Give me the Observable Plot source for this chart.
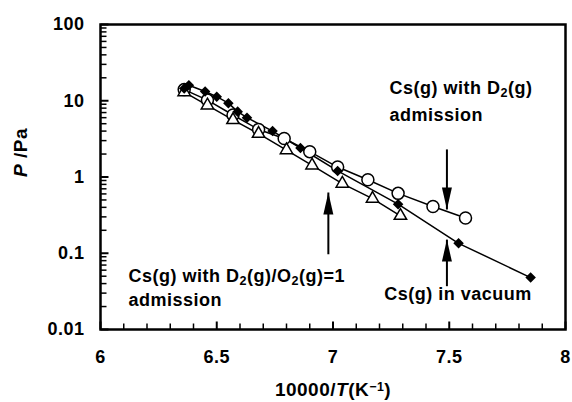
<!DOCTYPE html>
<html><head><meta charset="utf-8">
<script src="https://cdn.jsdelivr.net/npm/d3@7"></script>
<script src="https://cdn.jsdelivr.net/npm/@observablehq/plot@0.6"></script>
<style>body{margin:0;background:#fff;}</style>
</head><body><div id="chart"></div>
<script>
// Axis ticks and labels
const xTicks = [6, 6.5, 7, 7.5, 8];
const xTickLabels = ["6", "6.5", "7", "7.5", "8"];
const yTicks = [0.01, 0.1, 1, 10, 100];
const yTickLabels = ["0.01", "0.1", "1", "10", "100"];
const xTitle = "10000/*T*(K^{−1})";
const yTitle = "*P* /Pa";

// Cs(g) in vacuum (filled diamonds)
const vacuumX = [6.36, 6.38, 6.45, 6.50, 6.55, 6.59, 6.63, 6.74, 6.86, 7.02, 7.28, 7.54, 7.85];
const vacuumP = [14.5, 16.0, 13.2, 11.3, 9.3, 7.2, 6.0, 4.0, 2.4, 1.2, 0.44, 0.135, 0.048];
// Cs(g) with D2(g) admission (open circles)
const d2X = [6.36, 6.46, 6.57, 6.68, 6.79, 6.90, 7.02, 7.15, 7.28, 7.43, 7.57];
const d2P = [14.0, 10.2, 6.5, 4.2, 3.2, 2.15, 1.35, 0.92, 0.61, 0.41, 0.29];
// Cs(g) with D2(g)/O2(g)=1 admission (open triangles)
const d2o2X = [6.36, 6.46, 6.57, 6.68, 6.80, 6.91, 7.04, 7.17, 7.29];
const d2o2P = [13.0, 8.7, 5.6, 3.7, 2.25, 1.42, 0.82, 0.52, 0.31];

// Annotations
const labelText = ["Cs(g) with D_{2}(g)", "admission", "Cs(g) with D_{2}(g)/O_{2}(g)=1", "admission", "Cs(g) in vacuum"];
const labelX = [7.243, 7.243, 6.12, 6.12, 7.22];
const labelP = [14.5, 6.5, 0.0495, 0.024, 0.0288];

const arrowX = [7.49, 7.49, 6.98];
const arrowFromP = [2.3, 0.037, 0.097];
const arrowTipP = [0.375, 0.151, 0.626];
const arrowDir = ["down", "up", "up"];

// build tables
const toRows = (xs, ps) => xs.map((x, i) => ({x, p: ps[i]}));
const vacuum = toRows(vacuumX, vacuumP);
const d2 = toRows(d2X, d2P);
const d2o2 = toRows(d2o2X, d2o2P);
const labels = labelText.map((t, i) => ({t, x: labelX[i], p: labelP[i]}));
const arrows = arrowX.map((x, i) => ({x, from: arrowFromP[i], tip: arrowTipP[i], dir: arrowDir[i]}));
const yMinor = [];
for (const dec of [0.01, 0.1, 1, 10]) for (let k = 2; k <= 9; k++) yMinor.push(+(dec * k).toPrecision(3));
const xMinor = d3.range(61, 80).map(v => v / 10).filter(v => !xTicks.includes(v));

// custom symbols
const diamond = {draw(c, size) { const h = Math.sqrt(size / 2); c.moveTo(0, -h); c.lineTo(h, 0); c.lineTo(0, h); c.lineTo(-h, 0); c.closePath(); }};
const headUp = {draw(c) { c.moveTo(0, 0); c.lineTo(5, 22); c.lineTo(-5, 22); c.closePath(); }};
const headDown = {draw(c) { c.moveTo(0, 0); c.lineTo(5, -22); c.lineTo(-5, -22); c.closePath(); }};
const tickRight = (L) => ({draw(c) { c.moveTo(0, 0); c.lineTo(L, 0); }});
const tickUp = (L) => ({draw(c) { c.moveTo(0, 0); c.lineTo(0, -L); }});

const chart = Plot.plot({
  width: 572,
  height: 402,
  marginLeft: 100,
  marginRight: 7,
  marginTop: 24,
  marginBottom: 73,
  style: {fontFamily: "'Liberation Sans', Arial, sans-serif", fontSize: "18px", fontWeight: "bold", letterSpacing: "0.5px", color: "black", background: "white"},
  x: {domain: [6, 8], axis: null},
  y: {type: "log", domain: [0.01, 100], axis: null},
  marks: [
    Plot.axisX(xTicks, {tickFormat: d => xTickLabels[xTicks.indexOf(d)], tickSize: 0, tickPadding: 21, anchor: "bottom", label: null}),
    Plot.axisY(yTicks, {tickFormat: d => yTickLabels[yTicks.indexOf(d)], tickSize: 0, tickPadding: 16, anchor: "left", label: null}),
    // inward ticks
    Plot.dot(yTicks, {y: d => d, frameAnchor: "left", symbol: tickRight(8), stroke: "black", fill: "none", strokeWidth: 2}),
    Plot.dot(yMinor, {y: d => d, frameAnchor: "left", symbol: tickRight(6), stroke: "black", fill: "none", strokeWidth: 1.5}),
    Plot.dot(xTicks, {x: d => d, frameAnchor: "bottom", symbol: tickUp(8), stroke: "black", fill: "none", strokeWidth: 2}),
    Plot.dot(xMinor, {x: d => d, frameAnchor: "bottom", symbol: tickUp(6), stroke: "black", fill: "none", strokeWidth: 1.5}),
    // series lines
    Plot.line(vacuum, {x: "x", y: "p", stroke: "black", strokeWidth: 1.5}),
    Plot.line(d2, {x: "x", y: "p", stroke: "black", strokeWidth: 1.5}),
    Plot.line(d2o2, {x: "x", y: "p", stroke: "black", strokeWidth: 1.5}),
    // markers
    Plot.dot(d2, {x: "x", y: "p", r: 6, stroke: "black", fill: "white", strokeWidth: 1.5}),
    Plot.dot(d2o2, {x: "x", y: "p", r: 4.6, symbol: "triangle", stroke: "black", fill: "white", strokeWidth: 1.5}),
    Plot.dot(vacuum, {x: "x", y: "p", r: 4.2, symbol: diamond, fill: "black", stroke: "none"}),
    // arrows
    Plot.link(arrows, {x1: "x", x2: "x", y1: "from", y2: "tip", stroke: "black", strokeWidth: 2}),
    Plot.dot(arrows.filter(d => d.dir === "up"), {x: "x", y: "tip", symbol: headUp, fill: "black", stroke: "none"}),
    Plot.dot(arrows.filter(d => d.dir === "down"), {x: "x", y: "tip", symbol: headDown, fill: "black", stroke: "none"}),
    // labels
    Plot.text(labels, {x: "x", y: "p", text: "t", textAnchor: "start", fill: "black"}),
    Plot.text([xTitle], {frameAnchor: "bottom", dy: 66, fill: "black", fontSize: 19}),
    Plot.text([yTitle], {frameAnchor: "left", dx: -80, rotate: -90, fill: "black", fontSize: 19}),
    Plot.frame({stroke: "black", strokeWidth: 2.5})
  ]
});

// rich text: *italic*, _{sub}, ^{sup}
const NS = "http://www.w3.org/2000/svg";
chart.querySelectorAll("text").forEach(el => {
  const s = el.textContent;
  if (!/(\*|_\{|\^\{)/.test(s)) return;
  const parts = s.split(/(_\{[^}]*\}|\^\{[^}]*\}|\*[^*]*\*)/g).filter(p => p !== "");
  el.textContent = "";
  for (const p of parts) {
    const t = document.createElementNS(NS, "tspan");
    if (p.startsWith("_{")) {
      t.textContent = p.slice(2, -1); t.setAttribute("font-size", "70%"); t.setAttribute("baseline-shift", "-25%");
    } else if (p.startsWith("^{")) {
      t.textContent = p.slice(2, -1); t.setAttribute("font-size", "65%"); t.setAttribute("baseline-shift", "45%");
    } else if (p.startsWith("*")) {
      t.textContent = p.slice(1, -1); t.setAttribute("font-style", "italic");
    } else {
      t.textContent = p;
    }
    el.appendChild(t);
  }
});
document.getElementById("chart").appendChild(chart);
</script>
</body></html>
